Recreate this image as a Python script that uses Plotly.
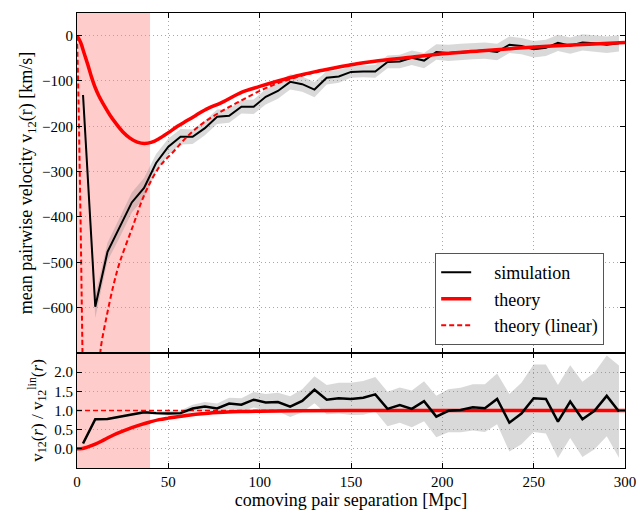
import plotly.graph_objects as go
from plotly.subplots import make_subplots

# ---------------- data ----------------
r_sim = [3.3, 10.0, 16.7, 23.3, 30.0, 36.7, 43.3, 50.0, 56.7, 63.3, 70.0, 76.7, 83.3, 90.0, 96.7,
         103.3, 110.0, 116.7, 123.3, 130.0, 136.7, 143.3, 150.0, 156.7, 163.3, 170.0, 176.7, 183.3,
         190.0, 196.7, 203.3, 210.0, 216.7, 223.3, 230.0, 236.7, 243.3, 250.0, 256.7, 263.3, 270.0,
         276.7, 283.3, 290.0, 296.7]
v_sim = [-131, -598, -477, -424, -368, -336, -281, -245, -223, -223, -204, -179, -177, -157, -157,
         -135, -122, -102, -107, -119, -93, -90, -80, -79, -79, -58, -57, -49,
         -55, -36, -38, -36, -34, -33, -36, -20, -23, -30, -27, -16, -22,
         -15, -17, -20, -17]
v_sim_err = [10, 25, 20, 22, 22, 22, 20, 18, 17, 16, 16, 16, 15, 15, 16,
             17, 17, 17, 17, 17, 15, 14, 13, 13, 14, 14, 15, 16,
             17, 17, 18, 18, 18, 18, 18, 18, 18, 18, 18, 18, 18,
             18, 18, 18, 18]
ratio_sim = [0.14, 0.77, 0.78, 0.84, 0.90, 0.95, 0.93, 0.92, 0.93, 1.05, 1.10, 1.05, 1.18, 1.15, 1.28,
             1.21, 1.22, 1.10, 1.25, 1.54, 1.28, 1.32, 1.30, 1.33, 1.42, 1.04, 1.14, 1.04,
             1.24, 0.84, 0.99, 1.01, 1.08, 1.06, 1.30, 0.68, 0.92, 1.32, 1.30, 0.71, 1.23,
             0.77, 0.99, 1.38, 0.97]
ratio_err = [0.03, 0.03, 0.03, 0.03, 0.03, 0.04, 0.04, 0.06, 0.07, 0.10, 0.12, 0.13, 0.15, 0.17, 0.20,
             0.22, 0.24, 0.27, 0.30, 0.35, 0.38, 0.40, 0.42, 0.44, 0.45, 0.45, 0.46, 0.48,
             0.52, 0.54, 0.56, 0.58, 0.60, 0.62, 0.66, 0.75, 0.80, 0.88, 0.90, 0.95, 0.95,
             0.98, 1.00, 1.05, 1.20]

r_th = [0, 2, 4, 6, 8, 10, 12, 15, 18, 21, 25, 29, 33, 37, 41, 45, 50, 55, 60, 65, 70, 80, 90,
        100, 110, 120, 130, 140, 150, 160, 170, 180, 200, 220, 240, 260, 280, 300]
v_th = [0, -15, -40, -65, -92, -115, -133, -155, -175, -192, -212, -226, -235, -238, -235, -227,
        -214, -200, -188, -176, -164, -146, -125, -112, -100, -89, -80, -72, -64, -58, -53, -49,
        -40, -34, -28, -23, -19, -15]

r_lin = [0, 0.5, 1.0, 1.5, 2.0, 2.5, 3.0, 3.2, 7.0, 12.6, 13, 16, 20, 23.4, 30, 37, 45, 53, 61,
         70, 80, 90, 100, 110, 120, 130, 140, 150, 160, 170, 180, 200, 220, 240, 260, 280, 300]
v_lin = [0, -80, -180, -300, -420, -560, -700, -760, None, -720, -690, -624, -550, -500, -427, -350,
         -290, -255, -220, -190, -165, -143, -122, -105, -92, -81, -72, -64, -58, -53, -49,
         -40, -34, -28, -23, -19, -15]

r_ratio_th = [0, 3, 6, 10, 15, 20, 25, 30, 35, 40, 45, 50, 60, 70, 80, 90, 100, 120, 150, 200, 300]
ratio_th = [0.0, 0.01, 0.05, 0.12, 0.24, 0.36, 0.46, 0.55, 0.63, 0.70, 0.76, 0.80, 0.87, 0.92,
            0.95, 0.97, 0.98, 0.99, 1.0, 1.0, 1.0]

r_ratio_lin = [0, 300]
ratio_lin = [1.0, 1.0]

shade_range = [0, 40]

# ---------------- figure ----------------
FONT = "Liberation Serif"
fig = make_subplots(rows=2, cols=1, shared_xaxes=True, vertical_spacing=0,
                    row_heights=[0.747, 0.253])

band_color = "rgba(128,128,128,0.3)"
SP = "\u2002\u2002"

# top band
up = [v + e for v, e in zip(v_sim, v_sim_err)]
lo = [v - e for v, e in zip(v_sim, v_sim_err)]
fig.add_trace(go.Scatter(x=r_sim + r_sim[::-1], y=up + lo[::-1], fill="toself",
                         fillcolor=band_color, line=dict(width=0), mode="lines",
                         showlegend=False, hoverinfo="skip"), row=1, col=1)
fig.add_trace(go.Scatter(x=r_sim, y=v_sim, mode="lines", name=SP + "simulation",
                         line=dict(color="black", width=2), legendgroup="a"), row=1, col=1)
fig.add_trace(go.Scatter(x=r_th, y=v_th, mode="lines", name=SP + "theory", line_shape="spline",
                         line=dict(color="red", width=3.5), legendgroup="b"), row=1, col=1)
fig.add_trace(go.Scatter(x=r_lin, y=v_lin, mode="lines", name=SP + "theory (linear)",
                         line_shape="spline", connectgaps=False,
                         line=dict(color="red", width=2, dash="5px,3px"), legendgroup="c"),
              row=1, col=1)

# bottom band
up2 = [v + e for v, e in zip(ratio_sim, ratio_err)]
lo2 = [v - e for v, e in zip(ratio_sim, ratio_err)]
fig.add_trace(go.Scatter(x=r_sim + r_sim[::-1], y=up2 + lo2[::-1], fill="toself",
                         fillcolor=band_color, line=dict(width=0), mode="lines",
                         showlegend=False, hoverinfo="skip"), row=2, col=1)
fig.add_trace(go.Scatter(x=r_ratio_lin, y=ratio_lin, mode="lines", showlegend=False,
                         line=dict(color="red", width=1.5, dash="5px,3px")), row=2, col=1)
fig.add_trace(go.Scatter(x=r_ratio_th, y=ratio_th, mode="lines", showlegend=False,
                         line_shape="spline", line=dict(color="red", width=3.5)), row=2, col=1)
fig.add_trace(go.Scatter(x=r_sim, y=ratio_sim, mode="lines", showlegend=False,
                         line=dict(color="black", width=2.5)), row=2, col=1)

fig.add_vrect(x0=shade_range[0], x1=shade_range[1], row="all", col=1,
              fillcolor="#ffcccc", line_width=0, layer="below")

axis_common = dict(showline=True, linecolor="black", linewidth=1, mirror="allticks",
                   ticks="inside", ticklen=5, tickwidth=1, tickcolor="black",
                   showgrid=True, gridcolor="#a8a8a8", griddash="1px,3px", gridwidth=1,
                   zeroline=False, automargin=False, ticklabeloverflow="allow",
                   tickfont=dict(family=FONT, size=15, color="black"))

fig.update_xaxes(range=[0, 300], tickvals=[0, 50, 100, 150, 200, 250, 300], **axis_common)
fig.update_xaxes(showticklabels=False, row=1, col=1)
fig.update_xaxes(title=dict(text="comoving pair separation [Mpc]",
                            font=dict(family=FONT, size=18, color="black"), standoff=4),
                 row=2, col=1)
fig.update_yaxes(range=[-700, 50], tickvals=[0, -100, -200, -300, -400, -500, -600],
                 title=dict(text="mean pairwise velocity v<sub>12</sub>(r) [km/s]",
                            font=dict(family=FONT, size=18, color="black"), standoff=4),
                 row=1, col=1, **axis_common)
fig.update_yaxes(range=[-0.5, 2.5], tickvals=[0, 0.5, 1.0, 1.5, 2.0], tickformat=".1f",
                 title=dict(text="v<sub>12</sub>(<i>r</i>) / v<sub>12</sub><sup>lin</sup>(<i>r</i>)",
                            font=dict(family=FONT, size=17, color="black"), standoff=6),
                 row=2, col=1, **axis_common)

fig.update_layout(
    width=638, height=510,
    margin=dict(l=77, r=13, t=13, b=42),
    plot_bgcolor="white", paper_bgcolor="white",
    font=dict(family=FONT, color="black"),
    legend=dict(x=0.962, y=0.27, xanchor="right", yanchor="bottom",
                bgcolor="white", bordercolor="#555555", borderwidth=1,
                font=dict(family=FONT, size=18, color="black"),
                tracegroupgap=8, traceorder="normal"),
)

# remove the default page margin so the 638x510 figure fills the window exactly
fig.write_html("out.html",
               config={"displayModeBar": False},
               post_script="document.body.style.margin='0px';"
                           "document.body.style.overflow='hidden';")
